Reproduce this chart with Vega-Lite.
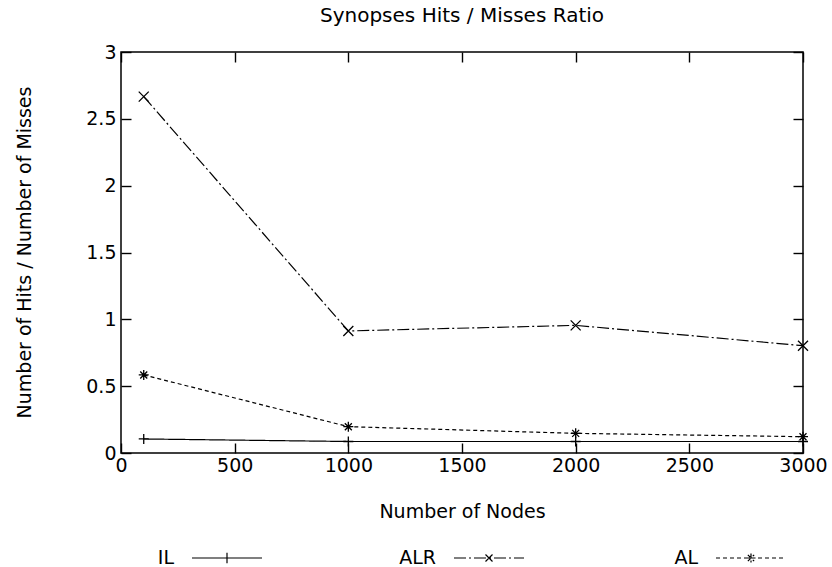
{
  "$schema": "https://vega.github.io/schema/vega-lite/v6.json",
  "width": 682,
  "height": 401,
  "autosize": {"type": "none"},
  "padding": {"left": 121, "top": 52, "right": 29, "bottom": 114},
  "background": "white",
  "title": {
    "text": "Synopses Hits / Misses Ratio",
    "font": "DejaVu Sans",
    "fontSize": 20,
    "fontWeight": "normal",
    "color": "black",
    "anchor": "middle",
    "frame": "group",
    "offset": 17
  },
  "data": {
    "values": [
      {"nodes": 100, "ratio": 0.105, "series": "IL"},
      {"nodes": 1000, "ratio": 0.086, "series": "IL"},
      {"nodes": 2000, "ratio": 0.086, "series": "IL"},
      {"nodes": 3000, "ratio": 0.086, "series": "IL"},
      {"nodes": 100, "ratio": 2.666, "series": "ALR"},
      {"nodes": 1000, "ratio": 0.913, "series": "ALR"},
      {"nodes": 2000, "ratio": 0.955, "series": "ALR"},
      {"nodes": 3000, "ratio": 0.803, "series": "ALR"},
      {"nodes": 100, "ratio": 0.584, "series": "AL"},
      {"nodes": 1000, "ratio": 0.197, "series": "AL"},
      {"nodes": 2000, "ratio": 0.147, "series": "AL"},
      {"nodes": 3000, "ratio": 0.122, "series": "AL"}
    ]
  },
  "layer": [
    {
      "mark": {"type": "line", "color": "black", "strokeWidth": 1.2},
      "encoding": {
        "x": {
          "field": "nodes", "type": "quantitative",
          "scale": {"domain": [0, 3000], "nice": false},
          "axis": {"orient": "bottom", "values": [0, 500, 1000, 1500, 2000, 2500, 3000], "format": "d", "title": "Number of Nodes", "titleY": 49, "titleBaseline": "top", "labelPadding": 13}
        },
        "y": {
          "field": "ratio", "type": "quantitative",
          "scale": {"domain": [0, 3], "nice": false},
          "axis": {"orient": "left", "values": [0, 0.5, 1, 1.5, 2, 2.5, 3], "format": "~g", "title": "Number of Hits / Number of Misses", "titleX": -91, "titleY": 200, "titleBaseline": "alphabetic", "titleAngle": -90, "titleAlign": "center", "labelPadding": 15}
        },
        "strokeDash": {
          "field": "series", "type": "nominal",
          "scale": {"domain": ["IL", "ALR", "AL"], "range": [[1, 0], [12, 3, 2, 3], [4, 3]]},
          "legend": {
            "title": null,
            "orient": "none",
            "legendX": 70,
            "legendY": 470,
            "direction": "horizontal",
            "symbolSize": 4900,
            "symbolStrokeWidth": 1.2,
            "symbolStrokeColor": "black",
            "symbolFillColor": "transparent",
            "labelAlign": "right",
            "labelOffset": -89,
            "labelFont": "DejaVu Sans",
            "labelFontSize": 19,
            "labelColor": "black",
            "columnPadding": 134,
            "gridAlign": "all",
            "encode": {
              "symbols": {
                "update": {
                  "shape": {"signal": "datum.value === 'IL' ? 'M-1,0L1,0M0,-0.15L0,0.15' : datum.value === 'ALR' ? 'M-1,0L1,0M-0.1,-0.1L0.1,0.1M-0.1,0.1L0.1,-0.1' : 'M-1,0L1,0M0,-0.13L0,0.13M-0.13,0L0.13,0M-0.09,-0.09L0.09,0.09M-0.09,0.09L0.09,-0.09'"},
                  "strokeDash": {"signal": "datum.value === 'ALR' ? [14, 3, 3, 3] : datum.value === 'AL' ? [4, 3] : [1, 0]"}
                }
              }
            }
          }
        }
      }
    },
    {
      "transform": [{"filter": "datum.series === 'IL'"}],
      "mark": {"type": "point", "filled": false, "stroke": "black", "strokeWidth": 1.3, "size": 100, "opacity": 1, "shape": "M-1,0L1,0M0,-1L0,1"},
      "encoding": {
        "x": {
          "field": "nodes", "type": "quantitative",
          "axis": {"orient": "top", "values": [0, 500, 1000, 1500, 2000, 2500, 3000], "labels": false, "title": null}
        },
        "y": {
          "field": "ratio", "type": "quantitative",
          "axis": {"orient": "right", "values": [0, 0.5, 1, 1.5, 2, 2.5, 3], "labels": false, "title": null}
        }
      }
    },
    {
      "transform": [{"filter": "datum.series === 'ALR'"}],
      "mark": {"type": "point", "filled": false, "stroke": "black", "strokeWidth": 1.3, "size": 100, "opacity": 1, "shape": "M-1,-1L1,1M-1,1L1,-1"},
      "encoding": {
        "x": {"field": "nodes", "type": "quantitative", "axis": null},
        "y": {"field": "ratio", "type": "quantitative", "axis": null}
      }
    },
    {
      "transform": [{"filter": "datum.series === 'AL'"}],
      "mark": {"type": "point", "filled": false, "stroke": "black", "strokeWidth": 1.3, "size": 100, "opacity": 1, "shape": "M-1,0L1,0M0,-1L0,1M-0.7,-0.7L0.7,0.7M-0.7,0.7L0.7,-0.7"},
      "encoding": {
        "x": {"field": "nodes", "type": "quantitative", "axis": null},
        "y": {"field": "ratio", "type": "quantitative", "axis": null}
      }
    }
  ],
  "resolve": {"axis": {"x": "independent", "y": "independent"}},
  "config": {
    "view": {"stroke": "black", "strokeWidth": 1.5},
    "axis": {
      "domain": false,
      "grid": false,
      "tickColor": "black",
      "tickWidth": 1.4,
      "tickSize": -10,
      "labelFont": "DejaVu Sans",
      "labelFontSize": 19,
      "labelColor": "black",
      "titleFont": "DejaVu Sans",
      "titleFontSize": 19,
      "titleFontWeight": "normal",
      "titleColor": "black",
      "labelFlush": false,
      "labelOverlap": false
    }
  }
}
